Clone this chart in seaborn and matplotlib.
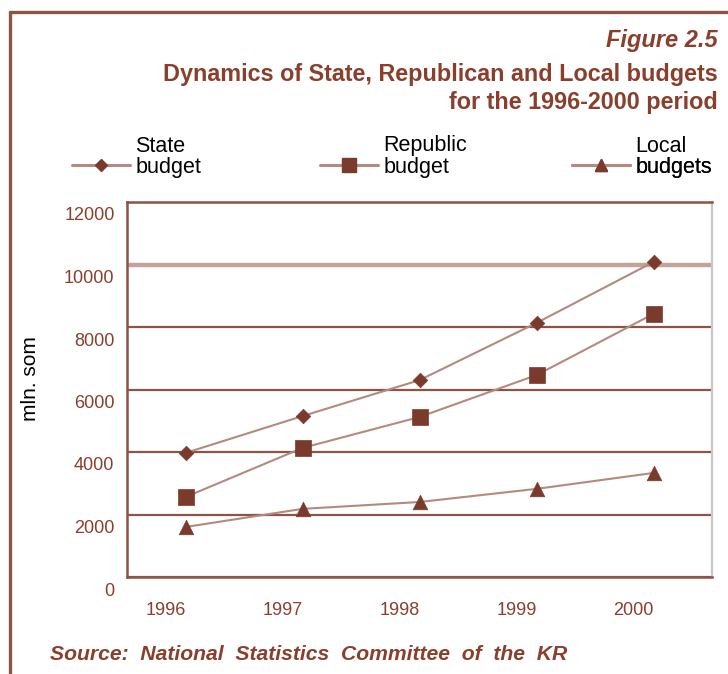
import matplotlib
matplotlib.use("Agg")
import matplotlib.pyplot as plt
import matplotlib.transforms as mtransforms
from matplotlib.lines import Line2D
import numpy as np
import pandas as pd
import seaborn as sns

# Budget figures, mln. som
years = ["1996", "1997", "1998", "1999", "2000"]
state_budget = [3970, 5150, 6300, 8130, 10080]
republic_budget = [2560, 4130, 5120, 6460, 8420]
local_budgets = [1600, 2180, 2400, 2820, 3330]
y_ticks = [0, 2000, 4000, 6000, 8000, 10000, 12000]

series_names = ["State", "Republic", "Local"]
legend_heads = ["State", "Republic", "Local"]
legend_tails = ["budget", "budget", "budgets"]

BROWN = "#7a3b2c"
TEXT_BROWN = "#8a3f2c"
LINE_BROWN = "#b48a80"
GRID_BROWN = "#8c5446"

sns.set_theme(style="white")
plt.rcParams["font.family"] = ["Liberation Sans", "DejaVu Sans"]

df = pd.DataFrame({
    "pos": list(range(len(years))) * 3,
    "value": state_budget + republic_budget + local_budgets,
    "series": [s for s in series_names for _ in years],
})

fig = plt.figure(figsize=(7.28, 6.74), dpi=100)
ax = fig.add_axes([127 / 728, 1 - 577 / 674, (712 - 127) / 728, (577 - 202) / 674])

markers = {"State": "D", "Republic": "s", "Local": "^"}
sizes = {"State": 55, "Republic": 120, "Local": 110}

sns.lineplot(data=df, x="pos", y="value", hue="series",
             palette={s: LINE_BROWN for s in series_names},
             linewidth=1.5, legend=False, ax=ax, zorder=3)
for s in series_names:
    sub = df[df["series"] == s]
    sns.scatterplot(data=sub, x="pos", y="value", marker=markers[s],
                    s=sizes[s], color=BROWN, edgecolor=BROWN,
                    linewidth=0.5, legend=False, ax=ax, zorder=4)

ax.set_xlim(-0.5, len(years) - 0.5)
ax.set_ylim(0, 12000)
ax.set_xlabel("")
ax.set_ylabel("mln. som", fontsize=15, color="black")
ax.yaxis.set_label_coords((40 - 127) / 585, 0.53)

# y grid
ax.set_yticks(y_ticks)
ax.set_yticklabels([str(v) for v in y_ticks], fontsize=13, color=TEXT_BROWN)
ax.tick_params(axis="y", length=0, pad=9)
ax.yaxis.grid(True, color=GRID_BROWN, linewidth=1.6)
for val, gl in zip(y_ticks, ax.get_ygridlines()):
    if val == 10000:
        gl.set_color("#c4a39b")
        gl.set_linewidth(3.2)
ax.set_axisbelow(True)
down = mtransforms.ScaledTranslation(0, -12 / 100, fig.dpi_scale_trans)
for lab in ax.get_yticklabels():
    lab.set_transform(lab.get_transform() + down)

# x ticks at category boundaries, labels at centres
ax.set_xticks(np.arange(-0.5, len(years), 1.0))
ax.set_xticklabels([])
ax.tick_params(axis="x", which="major", length=5, width=1.6, color=GRID_BROWN,
               direction="out")
ax.set_xticks(range(len(years)), minor=True)
ax.set_xticklabels(years, minor=True, fontsize=13, color=TEXT_BROWN)
ax.tick_params(axis="x", which="minor", length=0, pad=18)
left = mtransforms.ScaledTranslation(-20 / 100, 0, fig.dpi_scale_trans)
for lab in ax.get_xticklabels(minor=True):
    lab.set_transform(lab.get_transform() + left)

for side in ["left", "bottom", "top"]:
    ax.spines[side].set_color(GRID_BROWN)
    ax.spines[side].set_linewidth(1.8)
ax.spines["right"].set_color("#c8c8c8")
ax.spines["right"].set_linewidth(1.6)

# legend: one entry per series placed across the top
legend_x = [72 / 728, 320 / 728, 572 / 728]
legend_y = 1 - 167 / 674
legs = []
for s, tail, lx in zip(series_names, legend_tails, legend_x):
    h = Line2D([], [], color=LINE_BROWN, linewidth=2.2, marker=markers[s],
               markersize={"State": 6, "Republic": 10, "Local": 9}[s],
               markerfacecolor=BROWN, markeredgecolor=BROWN)
    leg = ax.legend(handles=[h], labels=[tail], loc="center left",
                    bbox_to_anchor=(lx, legend_y),
                    bbox_transform=fig.transFigure, frameon=False,
                    borderpad=0, borderaxespad=0, handlelength=2.7,
                    handletextpad=0.25, fontsize=15.5, labelcolor="black")
    ax.add_artist(leg)
    legs.append(leg)

fig.canvas.draw()
renderer = fig.canvas.get_renderer()
inv = fig.transFigure.inverted()
for leg, head in zip(legs, legend_heads):
    bb = leg.get_texts()[0].get_window_extent(renderer)
    x0, y1 = inv.transform((bb.x0, bb.y1))
    fig.text(x0, y1 + 0 / 674, head, ha="left", va="bottom",
             fontsize=15.5, color="black")

# titles
fig.text(718 / 728, 1 - 41 / 674, "Figure 2.5", ha="right", va="center",
         fontsize=17, fontstyle="italic", fontweight="bold", color=TEXT_BROWN)
fig.text(718 / 728, 1 - 74 / 674,
         "Dynamics of State, Republican and Local budgets",
         ha="right", va="center", fontsize=16.8, fontweight="bold", color=TEXT_BROWN)
fig.text(718 / 728, 1 - 102 / 674, "for the 1996-2000 period",
         ha="right", va="center", fontsize=16.8, fontweight="bold", color=TEXT_BROWN)
fig.text(50 / 728, 1 - 655 / 674,
         "Source:  National  Statistics  Committee  of  the  KR",
         ha="left", va="center", fontsize=15.2, fontstyle="italic",
         fontweight="bold", color=TEXT_BROWN)

# page frame
fig.add_artist(Line2D([10 / 728, 1.0], [1 - 12 / 674] * 2, transform=fig.transFigure,
                      color=GRID_BROWN, linewidth=2.4))
fig.add_artist(Line2D([10 / 728] * 2, [0, 1 - 12 / 674], transform=fig.transFigure,
                      color=GRID_BROWN, linewidth=2.4))

fig.savefig("out.png", dpi=100)
